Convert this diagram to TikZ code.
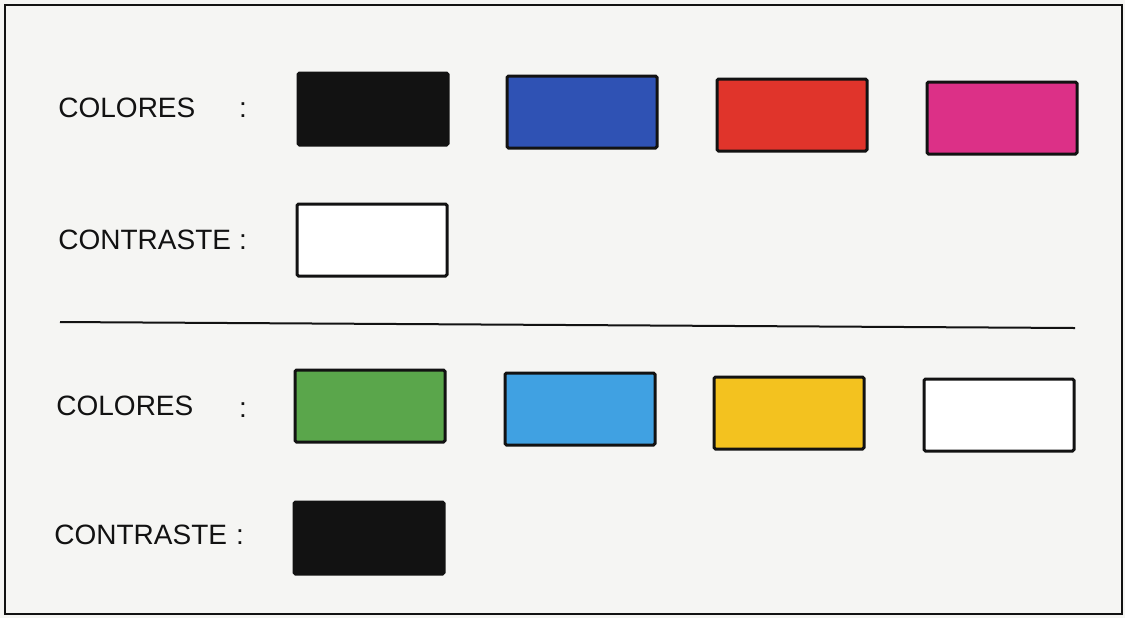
\documentclass[tikz,border=0pt]{standalone}
\usepackage{fontspec}
\setmainfont{Liberation Sans}
\usepackage{xcolor}
\usepackage{tikz}
\usetikzlibrary{positioning}

\definecolor{paper}{HTML}{F5F5F3}
\definecolor{swblue}{HTML}{2F52B4}
\definecolor{swred}{HTML}{E0342B}
\definecolor{swmagenta}{HTML}{DC3087}
\definecolor{swgreen}{HTML}{5AA64B}
\definecolor{swsky}{HTML}{40A1E2}
\definecolor{swyellow}{HTML}{F3C21F}
\definecolor{swblack}{HTML}{121212}

\begin{document}
\begin{tikzpicture}[x=0.5pt, y=-0.5pt,
    swatch/.style={draw=swblack, line width=1.5pt, minimum width=75pt, minimum height=36pt,
      inner sep=0pt, rounded corners=0.8pt},
    lbl/.style={font=\fontsize{14}{16}\selectfont, inner sep=0pt, text=swblack}]
    % page and frame
    \fill[paper] (0,0) rectangle (1125,618);
    \useasboundingbox (0,0) rectangle (1125,618);
    \draw[line width=1.2pt, swblack] (5,5) rectangle (1122,614);

    % upper palette
    \node[lbl, anchor=west] (colA) at (58,108) {COLORES};
    \node[lbl] (dotA) at (243,110) {:};
    \node[swatch, fill=swblack] (blackA) at (373,109) {};
    \node[swatch, fill=swblue] (blue) at (582,112) {};
    \node[swatch, fill=swred] (red) at (792,115) {};
    \node[swatch, fill=swmagenta] (magenta) at (1002,118) {};

    \node[lbl, anchor=west] (conA) at (58,240) {CONTRASTE};
    \node[lbl] (dotB) at (243,242) {:};
    \node[swatch, fill=white] (whiteA) at (372,240) {};

    % divider
    \draw[line width=1pt, swblack] (60,322) -- (1075,328);

    % lower palette
    \node[lbl, anchor=west] (colB) at (56,406) {COLORES};
    \node[lbl] (dotC) at (243,410) {:};
    \node[swatch, fill=swgreen] (green) at (370,406) {};
    \node[swatch, fill=swsky] (sky) at (580,409) {};
    \node[swatch, fill=swyellow] (yellow) at (789,413) {};
    \node[swatch, fill=white] (whiteB) at (999,415) {};

    \node[lbl, anchor=west] (conB) at (54,535) {CONTRASTE};
    \node[lbl] (dotD) at (240,537) {:};
    \node[swatch, fill=swblack] (blackB) at (369,538) {};
\end{tikzpicture}
\end{document}
